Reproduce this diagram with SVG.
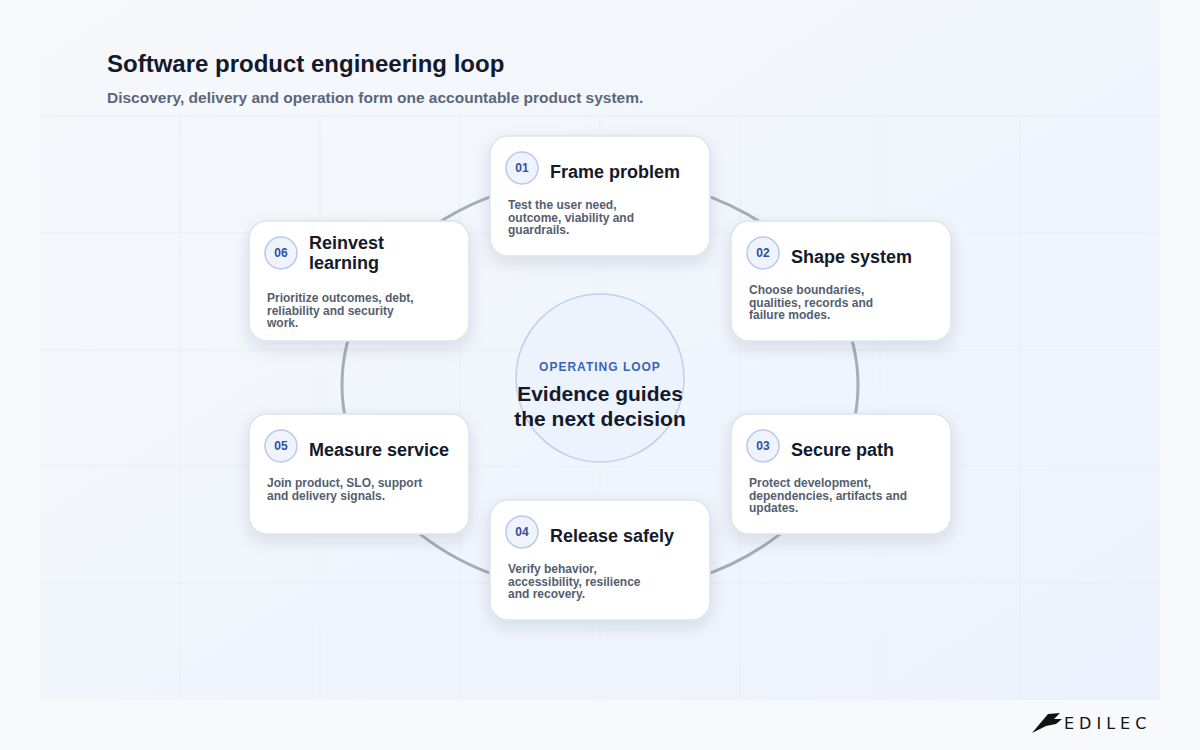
<svg xmlns="http://www.w3.org/2000/svg" width="1200" height="750" viewBox="0 0 1200 750">
<defs>
<linearGradient id="bg" x1="0" y1="0" x2="1" y2="1"><stop offset="0" stop-color="#f6f8fb"/><stop offset="1" stop-color="#ecf2fd"/></linearGradient>
<filter id="sh" x="-20%" y="-20%" width="140%" height="150%"><feDropShadow dx="0" dy="6" stdDeviation="8" flood-color="#1e2a4a" flood-opacity="0.12"/></filter>
<style>
.card{fill:#fff;stroke:#dde3ee;stroke-width:1.5}
.badge{fill:#eef3fd;stroke:#b9c8e8;stroke-width:1.5}
.num{font:700 12px "Liberation Sans",Arial,sans-serif;fill:#2f4f9e;text-anchor:middle}
.ttl{font:700 18px "Liberation Sans",Arial,sans-serif;fill:#141a2b}
.body{font:700 12px "Liberation Sans",Arial,sans-serif;fill:#555e70}
.grid{stroke:#e9edf4;stroke-width:1}
</style>
</defs>
<rect width="1200" height="750" fill="#f7f9fc"/>
<rect x="40" y="0" width="1120" height="700" fill="url(#bg)"/>
<g class="grid">
<line x1="40" y1="116" x2="1160" y2="116"/><line x1="40" y1="233" x2="1160" y2="233"/><line x1="40" y1="350" x2="1160" y2="350"/><line x1="40" y1="466" x2="1160" y2="466"/><line x1="40" y1="583" x2="1160" y2="583"/>
<line x1="180" y1="116" x2="180" y2="700"/><line x1="320" y1="116" x2="320" y2="700"/><line x1="460" y1="116" x2="460" y2="700"/><line x1="600" y1="116" x2="600" y2="700"/><line x1="740" y1="116" x2="740" y2="700"/><line x1="880" y1="116" x2="880" y2="700"/><line x1="1020" y1="116" x2="1020" y2="700"/>
</g>
<text x="107" y="72" font-family="Liberation Sans, Arial, sans-serif" font-size="24" font-weight="700" fill="#141a2b">Software product engineering loop</text>
<text x="107" y="103" font-family="Liberation Sans, Arial, sans-serif" font-size="15.5" font-weight="700" fill="#5d6679">Discovery, delivery and operation form one accountable product system.</text>
<g id="connectors"><ellipse cx="600" cy="385" rx="258" ry="208" fill="none" stroke="#a7adb8" stroke-width="3"/></g>
<g id="center">
<circle cx="600" cy="378" r="84" fill="#edf3fd" stroke="#bdd0ee" stroke-width="1.5"/>
<text x="600" y="371" text-anchor="middle" font-family="Liberation Sans, Arial, sans-serif" font-size="12" font-weight="700" letter-spacing="1" fill="#3a63b8">OPERATING LOOP</text>
<text x="600" y="401" text-anchor="middle" font-family="Liberation Sans, Arial, sans-serif" font-size="21" font-weight="700" fill="#141a2b">Evidence guides</text>
<text x="600" y="426" text-anchor="middle" font-family="Liberation Sans, Arial, sans-serif" font-size="21" font-weight="700" fill="#141a2b">the next decision</text>
</g>
<g id="n01" transform="translate(490,136)"><rect class="card" width="220" height="120" rx="18" filter="url(#sh)"/><circle class="badge" cx="32" cy="32" r="16"/><text class="num" x="32" y="36">01</text><text class="ttl" x="60" y="42">Frame problem</text><text class="body" x="18" y="73">Test the user need,</text><text class="body" x="18" y="85.5">outcome, viability and</text><text class="body" x="18" y="98">guardrails.</text></g>
<g id="n02" transform="translate(731,221)"><rect class="card" width="220" height="120" rx="18" filter="url(#sh)"/><circle class="badge" cx="32" cy="32" r="16"/><text class="num" x="32" y="36">02</text><text class="ttl" x="60" y="42">Shape system</text><text class="body" x="18" y="73">Choose boundaries,</text><text class="body" x="18" y="85.5">qualities, records and</text><text class="body" x="18" y="98">failure modes.</text></g>
<g id="n03" transform="translate(731,414)"><rect class="card" width="220" height="120" rx="18" filter="url(#sh)"/><circle class="badge" cx="32" cy="32" r="16"/><text class="num" x="32" y="36">03</text><text class="ttl" x="60" y="42">Secure path</text><text class="body" x="18" y="73">Protect development,</text><text class="body" x="18" y="85.5">dependencies, artifacts and</text><text class="body" x="18" y="98">updates.</text></g>
<g id="n04" transform="translate(490,500)"><rect class="card" width="220" height="120" rx="18" filter="url(#sh)"/><circle class="badge" cx="32" cy="32" r="16"/><text class="num" x="32" y="36">04</text><text class="ttl" x="60" y="42">Release safely</text><text class="body" x="18" y="73">Verify behavior,</text><text class="body" x="18" y="85.5">accessibility, resilience</text><text class="body" x="18" y="98">and recovery.</text></g>
<g id="n05" transform="translate(249,414)"><rect class="card" width="220" height="120" rx="18" filter="url(#sh)"/><circle class="badge" cx="32" cy="32" r="16"/><text class="num" x="32" y="36">05</text><text class="ttl" x="60" y="42">Measure service</text><text class="body" x="18" y="73">Join product, SLO, support</text><text class="body" x="18" y="85.5">and delivery signals.</text></g>
<g id="n06" transform="translate(249,221)"><rect class="card" width="220" height="120" rx="18" filter="url(#sh)"/><circle class="badge" cx="32" cy="32" r="16"/><text class="num" x="32" y="36">06</text><text class="ttl" x="60" y="28">Reinvest</text><text class="ttl" x="60" y="48">learning</text><text class="body" x="18" y="81">Prioritize outcomes, debt,</text><text class="body" x="18" y="93.5">reliability and security</text><text class="body" x="18" y="106">work.</text></g>
<g id="logo"><path d="M1032 733 L1048 714 L1060 713 L1054 719 L1062 719 L1056 724 L1046 726 Z" fill="#111"/><text x="1064" y="729" font-family="DejaVu Sans, sans-serif" font-size="16" letter-spacing="5" fill="#111">EDILEC</text></g>
</svg>
